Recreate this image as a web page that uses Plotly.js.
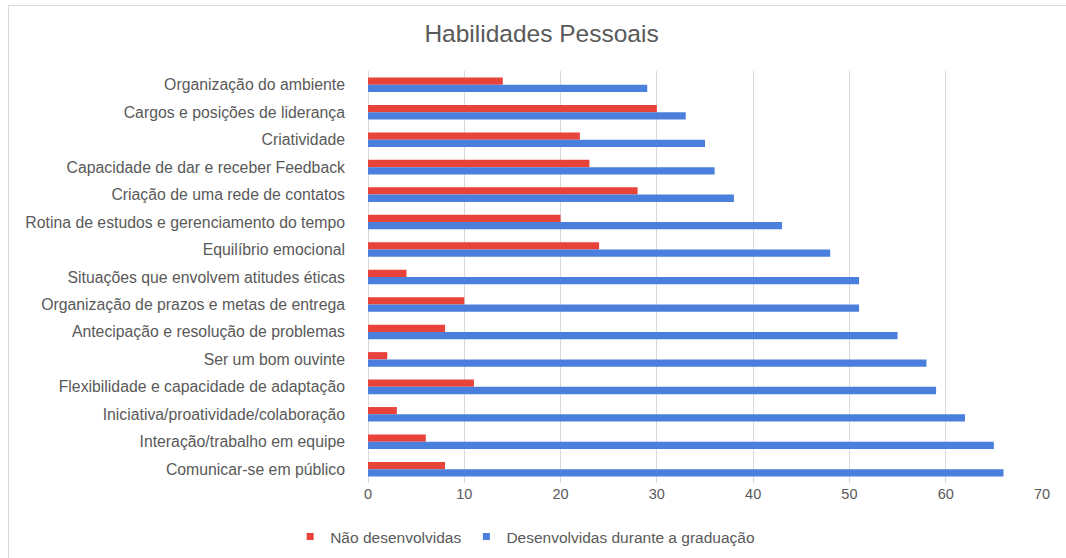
<!DOCTYPE html>
<html>
<head>
<meta charset="utf-8">
<script src="https://cdn.plot.ly/plotly-3.0.1.min.js"></script>
<style>
html,body{margin:0;padding:0;background:#fff;}
#wrap{position:relative;width:1066px;height:558px;}
#chart{position:absolute;left:0;top:0;width:1066px;height:558px;}
#frame{position:absolute;left:8px;top:5px;width:1070px;height:560px;border-left:1px solid #d9d9d9;border-top:1px solid #d9d9d9;pointer-events:none;}
</style>
</head>
<body>
<div id="wrap"><div id="chart"></div><div id="frame"></div></div>
<script>
const categories = [
  "Organização do ambiente",
  "Cargos e posições de liderança",
  "Criatividade",
  "Capacidade de dar e receber Feedback",
  "Criação de uma rede de contatos",
  "Rotina de estudos e gerenciamento do tempo",
  "Equilíbrio emocional",
  "Situações que envolvem atitudes éticas",
  "Organização de prazos e metas de entrega",
  "Antecipação e resolução de problemas",
  "Ser um bom ouvinte",
  "Flexibilidade e capacidade de adaptação",
  "Iniciativa/proatividade/colaboração",
  "Interação/trabalho em equipe",
  "Comunicar-se em público"
];
const naoDesenvolvidas = [14, 30, 22, 23, 28, 20, 24, 4, 10, 8, 2, 11, 3, 6, 8];
const desenvolvidas = [29, 33, 35, 36, 38, 43, 48, 51, 51, 55, 58, 59, 62, 65, 66];
const seriesNames = ["Não desenvolvidas", "Desenvolvidas durante a graduação"];
const xTicks = [0, 10, 20, 30, 40, 50, 60, 70];
const titleText = "Habilidades Pessoais";

const RED = "#E8433A";
const BLUE = "#4A7FDD";
const TXT = "#595959";
const FONT = "Liberation Sans, Arial, sans-serif";

const traces = [
  {type: "bar", orientation: "h", y: categories, x: naoDesenvolvidas, name: seriesNames[0],
   marker: {color: RED}, showlegend: false, hoverinfo: "x+y"},
  {type: "bar", orientation: "h", y: categories, x: desenvolvidas, name: seriesNames[1],
   marker: {color: BLUE}, showlegend: false, hoverinfo: "x+y"},
  {type: "scatter", mode: "markers", x: [null], y: [null], name: seriesNames[0],
   marker: {symbol: "square", size: 7, color: RED}, hoverinfo: "skip"},
  {type: "scatter", mode: "markers", x: [null], y: [null], name: seriesNames[1],
   marker: {symbol: "square", size: 7, color: BLUE}, hoverinfo: "skip"}
];

const layout = {
  width: 1066, height: 558,
  margin: {l: 368, r: 24, t: 71, b: 75},
  paper_bgcolor: "#fff", plot_bgcolor: "#fff",
  font: {family: FONT, color: TXT, size: 14},
  title: {text: titleText, x: 0.508, xanchor: "center", y: 0.94, yanchor: "middle",
          font: {family: FONT, size: 24.5, color: TXT}},
  barmode: "group", bargap: 0.47, bargroupgap: 0,
  xaxis: {range: [0, 70], tickvals: xTicks, ticktext: xTicks.map(String),
          showgrid: true, gridcolor: "#d9d9d9", gridwidth: 1,
          zeroline: true, zerolinecolor: "#d9d9d9", showline: false,
          ticks: "", tickfont: {size: 14.5, color: TXT}, fixedrange: true},
  yaxis: {type: "category", autorange: "reversed", showgrid: false, zeroline: false,
          showline: false, ticks: "", ticklabelstandoff: 22,
          tickfont: {size: 15.8, color: TXT}, fixedrange: true},
  legend: {orientation: "h", xref: "container", yref: "container",
           x: 0.2722, xanchor: "left", y: 0.0376, yanchor: "middle",
           font: {size: 15.5, color: TXT}, itemwidth: 30,
           traceorder: "normal"},
  showlegend: true
};

Plotly.newPlot("chart", traces, layout, {displayModeBar: false, staticPlot: true});
</script>
</body>
</html>
